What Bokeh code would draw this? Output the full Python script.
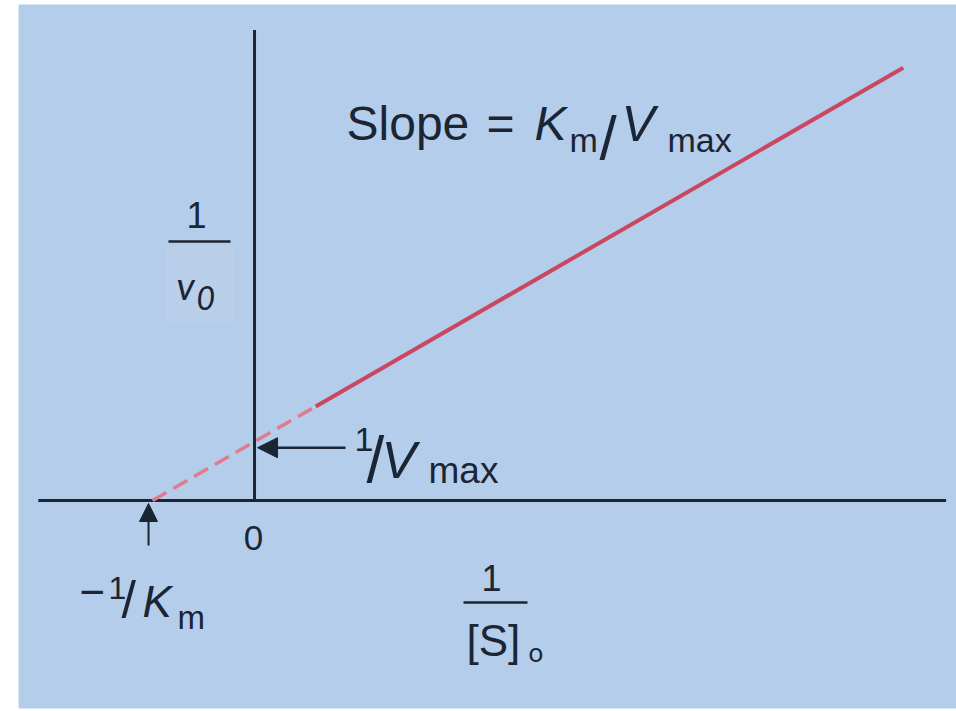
from bokeh.plotting import figure
from bokeh.models import Range1d, Label, Arrow, NormalHead
from bokeh.embed import file_html
from bokeh.resources import INLINE

# Lineweaver-Burk (double reciprocal) plot with Km = 1 and Vmax = 1
km = 1.0
vmax = 1.0

# extrapolated part of the line, from -1/Km to the first measured point
dash_inv_s = [-1.0, 0.6]
dash_inv_v = [0.0, 1.6]
# range covered by measurements
solid_inv_s = [0.6, 6.36]
solid_inv_v = [1.6, 7.36]

# extents of the drawn axes
x_axis_extent = [-2.12, 6.78]
y_axis_extent = [0.0, 8.0]

W, H = 956, 711
BL, BR, BT, BB = 18, 0, 4, 3
X_RANGE = (-2.314, 6.882)
Y_RANGE = (-3.537, 8.435)
px_x = (W - BL - BR) / (X_RANGE[1] - X_RANGE[0])
px_y = (H - BT - BB) / (Y_RANGE[1] - Y_RANGE[0])
TEXT_LIFT = 13  # labels sit this many px below their anchor otherwise


def dx(px):
    return px / px_x


def dy(px):
    return px / px_y


INK = "#1b2533"
BG = "#b4cdeb"
SANS = "Liberation Sans"
HUMANIST = "Lato"

p = figure(width=W, height=H, output_backend="svg", toolbar_location=None,
           x_range=Range1d(*X_RANGE), y_range=Range1d(*Y_RANGE),
           min_border_left=BL, min_border_right=BR,
           min_border_top=BT, min_border_bottom=BB)
p.axis.visible = False
p.grid.visible = False
p.outline_line_color = None
p.background_fill_color = BG
p.border_fill_color = "white"

# axes drawn through the origin
p.line(x_axis_extent, [0, 0], line_color=INK, line_width=3)
p.line([0, 0], y_axis_extent, line_color=INK, line_width=3)

# regression line: dashed extrapolation + solid measured range
p.line(dash_inv_s, dash_inv_v, line_color="#e07a8c", line_width=3.5, line_dash="16 8")
p.line(solid_inv_s, solid_inv_v, line_color="#c9475f", line_width=4)

# arrows pointing at the two intercepts
p.add_layout(Arrow(end=NormalHead(size=20, fill_color=INK, line_color=INK),
                   x_start=dx(91), y_start=1 / vmax - dy(6),
                   x_end=dx(3), y_end=1 / vmax - dy(6),
                   line_color=INK, line_width=2.5))
p.add_layout(Arrow(end=NormalHead(size=18, fill_color=INK, line_color=INK),
                   x_start=-1 / km - dx(4), y_start=-dy(45),
                   x_end=-1 / km - dx(4), y_end=-dy(3),
                   line_color=INK, line_width=2))


def at(px, py):
    # canvas position (relative to the figure's top-left) in data units
    return X_RANGE[0] + dx(px - BL), Y_RANGE[1] - dy(py - BT)


def piece(text, px, py, size, style="normal", font=SANS, align="left"):
    x, y = at(px, py - TEXT_LIFT)
    p.add_layout(Label(x=x, y=y, text=text, text_font=font,
                       text_font_size=f"{size}px", text_font_style=style,
                       text_color=INK, text_align=align,
                       text_baseline="alphabetic"))


# origin
piece("0", 253, 550, 35, align="center")

# slope annotation
piece("Slope", 346, 136, 48)
piece("=", 486, 136, 48)
piece("K", 534, 136, 48, "italic")
piece("m", 569, 152, 34)
piece("/", 599, 150, 62)
piece("V", 621, 136, 50, "italic")
piece("max", 667, 152, 34)

# 1/Vmax
piece("1", 354, 452, 34)
piece("/", 366, 472, 64)
piece("V", 381, 472, 52, "italic")
piece("max", 428, 483, 37)

# -1/Km
piece("\u2212", 79, 604, 44)
piece("1", 108, 600, 32)
piece("/", 121, 612, 52)
piece("K", 142, 614, 44, "italic")
piece("m", 177, 630, 33)

# x axis title: 1 / [S]o
piece("1", 491, 590, 36, align="center")
p.line([at(463, 0)[0], at(527, 0)[0]], [at(0, 602)[1]] * 2, line_color=INK, line_width=2.5)
piece("[S]", 466, 653, 44)
piece("o", 528, 664, 26, font=HUMANIST)

# y axis title: 1 / v0
p.quad(left=at(166, 0)[0], right=at(233, 0)[0], top=at(0, 246)[1], bottom=at(0, 322)[1],
       fill_color="#bacfe9", line_color=None)
piece("1", 196, 227, 36, align="center")
p.line([at(168, 0)[0], at(230, 0)[0]], [at(0, 241)[1]] * 2, line_color=INK, line_width=2.5)
piece("v", 176, 297, 38, "italic", HUMANIST)
piece("0", 196, 310, 32, "italic", HUMANIST)

open("out.html", "w").write(file_html(p, INLINE))
